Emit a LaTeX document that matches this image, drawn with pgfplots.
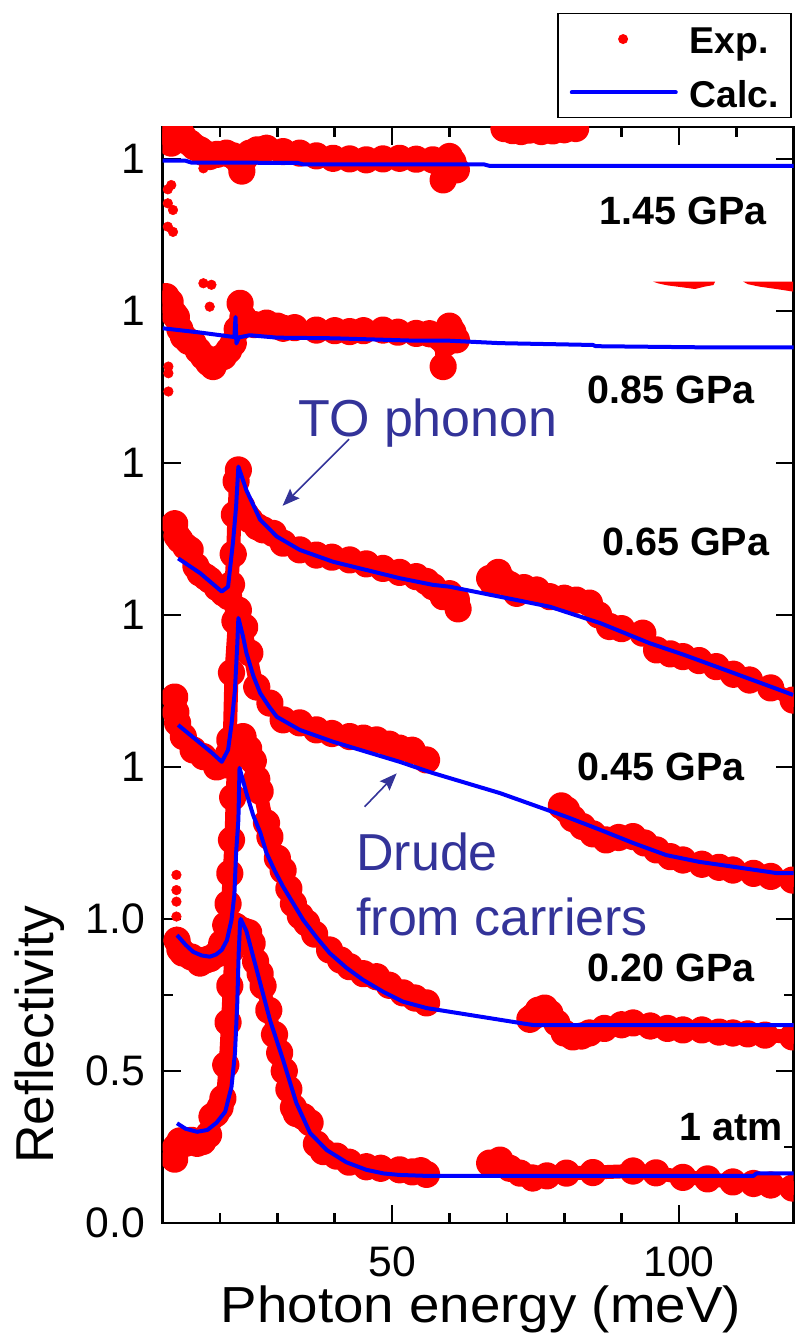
\documentclass[border=0pt]{standalone}
\usepackage{fontspec}
\setmainfont{Liberation Sans}
\newfontfamily\widesans{Liberation Sans}[FakeStretch=1.08]
\usepackage{pgfplots}
\usepackage{pgfplotstable}
\pgfplotsset{compat=1.18}
\usetikzlibrary{arrows.meta}
\definecolor{annot}{RGB}{51,51,153}

% ---------- 1 atm ----------
\pgfplotstableread{
E R
12.5 0.328
14.0 0.310
16.0 0.300
17.8 0.306
19.4 0.330
20.9 0.366
22.0 0.448
22.6 0.558
23.0 0.720
23.25 0.887
23.5 0.990
23.6 1.000
24.6 0.960
26.4 0.832
28.7 0.668
31.0 0.536
33.3 0.395
35.7 0.296
38.6 0.240
42.0 0.200
45.5 0.175
48.5 0.163
51.3 0.158
56.0 0.155
113.0 0.155
113.5 0.163
120.0 0.163
}\calcA
\pgfplotstableread{
E R
12.1 0.210
12.3 0.250
13.0 0.270
14.0 0.262
15.0 0.272
16.0 0.262
17.0 0.268
18.0 0.290
18.6 0.350
19.3 0.360
20.0 0.380
20.5 0.410
21.0 0.520
21.4 0.660
21.7 0.780
22.0 0.900
22.3 0.980
22.8 0.975
23.5 0.965
24.2 0.960
25.0 0.955
25.6 0.920
26.2 0.860
27.0 0.820
27.5 0.780
28.5 0.700
29.5 0.620
30.4 0.560
31.2 0.500
32.0 0.440
32.8 0.380
33.3 0.360
34.5 0.350
35.7 0.330
36.8 0.260
38.0 0.235
40.3 0.220
42.5 0.200
45.5 0.185
48.0 0.180
51.3 0.175
53.5 0.168
55.0 0.172
56.0 0.160
}\expAlow
\pgfplotstableread{
E R
67.0 0.197
68.8 0.207
70.5 0.180
72.3 0.164
74.5 0.148
77.0 0.155
80.4 0.164
85.0 0.166
92.0 0.171
96.0 0.165
100.7 0.150
105.0 0.145
109.4 0.135
113.0 0.130
116.0 0.125
119.8 0.115
}\expAhigh

% ---------- 0.20 GPa ----------
\pgfplotstableread{
E R
12.5 0.447
14.0 0.415
15.3 0.392
16.8 0.380
18.2 0.376
19.3 0.383
20.3 0.398
21.2 0.430
22.0 0.497
22.5 0.580
22.8 0.717
23.2 0.826
23.4 0.997
24.6 0.914
25.8 0.840
27.0 0.785
28.1 0.717
29.5 0.660
31.0 0.606
32.8 0.550
34.5 0.497
36.8 0.440
39.1 0.388
42.0 0.340
44.9 0.300
48.5 0.260
51.9 0.228
56.0 0.207
74.6 0.151
120.0 0.151
}\calcB
\pgfplotstableread{
E R
12.5 0.430
13.0 0.400
13.5 0.388
15.0 0.375
16.5 0.355
17.5 0.365
18.3 0.370
19.5 0.385
20.3 0.420
21.0 0.480
21.4 0.550
21.7 0.650
22.0 0.760
22.2 0.900
22.5 1.050
23.0 1.090
24.0 1.100
25.0 1.060
25.8 1.020
26.4 0.960
27.0 0.920
28.1 0.816
28.7 0.770
30.0 0.700
31.0 0.660
32.0 0.600
32.8 0.550
34.0 0.510
35.1 0.487
36.5 0.450
39.1 0.398
41.0 0.365
42.6 0.343
45.0 0.320
47.3 0.310
49.5 0.282
51.9 0.257
54.0 0.240
56.0 0.224
}\expBlow
\pgfplotstableread{
E R
12.4 0.645
12.4 0.595
12.4 0.557
12.4 0.508
12.4 0.458
}\expBdots
\pgfplotstableread{
E R
74.0 0.170
74.6 0.179
75.5 0.200
76.6 0.207
77.5 0.190
78.7 0.158
80.0 0.125
81.5 0.112
83.0 0.115
84.4 0.125
87.0 0.140
90.0 0.152
92.0 0.158
95.0 0.148
98.0 0.140
100.7 0.135
104.0 0.135
107.0 0.128
109.4 0.125
112.0 0.122
115.0 0.118
119.8 0.112
}\expBhigh

% ---------- 0.45 GPa ----------
\pgfplotstableread{
E R
12.7 0.638
14.5 0.610
16.5 0.579
18.5 0.548
20.3 0.517
21.4 0.556
22.0 0.640
22.6 0.753
23.0 0.900
23.2 0.990
24.0 0.930
24.6 0.875
25.8 0.800
27.0 0.743
28.5 0.700
29.9 0.665
33.9 0.622
39.7 0.583
45.5 0.550
51.3 0.517
57.1 0.480
68.8 0.414
80.4 0.336
86.3 0.293
92.0 0.250
97.8 0.210
103.5 0.188
109.4 0.172
117.0 0.151
120.0 0.151
}\calcC
\pgfplotstableread{
E R
12.1 0.730
12.3 0.680
12.6 0.645
13.6 0.600
15.3 0.556
17.1 0.534
19.4 0.500
20.9 0.507
21.4 0.540
21.7 0.589
22.0 0.810
22.6 0.980
23.2 1.016
24.3 0.960
25.2 0.875
26.4 0.763
28.7 0.710
31.0 0.655
33.9 0.645
36.8 0.622
39.5 0.610
42.6 0.600
45.0 0.595
47.3 0.589
49.5 0.575
51.3 0.562
53.5 0.555
56.0 0.523
}\expClow
\pgfplotstableread{
E R
79.5 0.372
80.4 0.359
81.5 0.330
83.2 0.304
85.0 0.280
87.3 0.260
89.5 0.268
92.0 0.271
94.0 0.250
96.1 0.227
98.5 0.205
100.7 0.194
104.0 0.180
107.0 0.170
109.4 0.161
113.0 0.150
116.0 0.140
119.8 0.128
}\expChigh

% ---------- 0.65 GPa ----------
\pgfplotstableread{
E R
12.7 0.686
16.5 0.638
20.3 0.577
21.4 0.593
22.3 0.747
22.8 0.856
23.2 0.988
24.6 0.910
27.0 0.813
29.9 0.758
33.9 0.714
39.7 0.675
45.5 0.648
51.3 0.621
57.1 0.599
60.0 0.593
68.8 0.560
77.5 0.527
86.3 0.473
94.9 0.407
100.7 0.370
106.5 0.330
113.0 0.285
119.9 0.237
}\calcD
\pgfplotstableread{
E R
12.1 0.800
12.5 0.760
13.0 0.747
14.0 0.725
14.8 0.714
15.8 0.660
16.5 0.638
17.5 0.625
18.2 0.615
19.5 0.590
20.6 0.572
21.5 0.560
22.0 0.600
22.3 0.700
22.5 0.830
22.8 0.940
23.2 0.977
23.8 0.856
24.5 0.830
25.2 0.813
26.5 0.790
27.5 0.780
29.3 0.768
31.0 0.736
33.9 0.714
36.8 0.697
39.5 0.690
42.6 0.681
45.5 0.668
48.4 0.653
51.3 0.640
54.2 0.626
56.0 0.610
57.1 0.593
58.9 0.560
60.0 0.570
61.2 0.550
61.5 0.520
}\expDlow
\pgfplotstableread{
E R
67.0 0.620
67.6 0.604
68.5 0.640
69.3 0.615
70.5 0.600
71.7 0.571
73.0 0.590
75.2 0.582
77.5 0.560
80.0 0.555
82.1 0.549
84.4 0.539
86.0 0.500
87.9 0.462
90.0 0.455
93.7 0.440
96.1 0.385
98.5 0.372
100.7 0.363
103.5 0.350
106.5 0.330
109.5 0.305
112.3 0.286
116.0 0.260
119.9 0.220
}\expDhigh

% ---------- 0.85 GPa ----------
\pgfplotstableread{
E R
10.0 0.943
16.5 0.929
21.7 0.916
22.5 0.914
22.7 0.980
22.85 0.893
23.3 0.913
25.2 0.920
30.0 0.912
39.7 0.910
54.2 0.902
60.0 0.902
68.8 0.894
85.0 0.888
85.5 0.884
105.3 0.880
120.0 0.880
}\calcE
\pgfplotstableread{
E R
10.6 1.047
11.3 1.030
12.0 0.990
12.4 0.980
13.0 0.940
13.6 0.916
14.5 0.900
15.3 0.894
16.2 0.870
17.1 0.850
18.0 0.830
18.8 0.817
19.5 0.840
20.6 0.850
21.5 0.870
22.3 0.894
23.0 0.940
23.5 1.025
24.0 0.980
24.6 0.960
26.0 0.955
28.1 0.960
30.0 0.950
31.0 0.943
33.0 0.945
36.8 0.937
40.0 0.935
42.6 0.932
45.0 0.935
48.4 0.937
51.0 0.930
54.2 0.926
56.5 0.925
58.5 0.910
58.9 0.817
59.3 0.894
60.0 0.950
60.6 0.930
61.2 0.905
}\expEband
\pgfplotstableread{
E R
11.0 0.817
11.0 0.795
11.0 0.735
17.1 1.091
18.5 1.086
18.2 1.014
15.0 0.870
16.0 0.840
17.0 0.820
18.0 0.800
19.0 0.810
20.0 0.830
21.0 0.850
22.0 0.870
}\expEdots
\pgfplotstableread{
E R
95.5 1.0964
106.3 1.0964
106.0 1.085
104.5 1.080
102.8 1.072
100.5 1.078
98.0 1.084
96.5 1.090
}\expEtopA
\pgfplotstableread{
E R
111.2 1.0964
119.9 1.0964
119.9 1.0635
117.0 1.072
114.0 1.080
112.0 1.088
}\expEtopB

% ---------- 1.45 GPa ----------
\pgfplotstableread{
E R
10.0 0.994
14.0 0.994
15.0 0.988
33.5 0.987
34.5 0.982
66.0 0.982
67.0 0.977
120.0 0.977
}\calcF
\pgfplotstableread{
E R
10.4 1.090
11.0 1.060
11.5 1.052
12.2 1.080
13.0 1.095
13.6 1.073
14.8 1.052
15.5 1.040
16.5 1.030
17.2 1.020
18.2 1.008
19.5 1.015
21.1 1.019
22.3 1.010
23.0 1.000
23.5 0.986
23.8 0.960
24.2 1.000
25.2 1.019
26.5 1.030
28.1 1.035
31.0 1.024
33.9 1.019
36.8 1.010
39.7 1.002
42.6 1.000
45.5 0.997
48.4 1.000
51.3 1.002
54.2 0.999
57.1 0.997
58.0 0.990
58.9 0.931
59.3 0.990
60.0 1.008
60.6 0.990
61.2 0.964
}\expFband
\pgfplotstableread{
E R
11.5 0.914
10.9 0.900
10.9 0.854
11.8 0.832
10.9 0.777
11.8 0.760
17.1 0.969
23.5 0.953
}\expFdots
\pgfplotstableread{
E R
69.5 1.100
71.0 1.093
72.5 1.090
74.0 1.095
76.0 1.090
78.0 1.092
80.0 1.096
82.0 1.100
}\expFtop

\pgfplotsset{
  expline/.style={draw=red, line width=10.5pt, line join=round, line cap=round,
    mark=*, mark size=5pt, mark options={draw=none, fill=red}, forget plot},
  expdots/.style={red, only marks, mark=*, mark size=3.6pt,
    mark options={draw=none, fill=red}, forget plot},
  calcline/.style={blue, line width=3pt, line join=round, mark=none, forget plot},
}

\begin{document}
\begin{tikzpicture}
\begin{axis}[
  scale only axis,
  width=473.25pt, height=822pt,
  xmin=10, xmax=120, ymin=0, ymax=3.605,
  clip marker paths=true,
  axis line style={line width=2.2pt},
  tick style={line width=2pt, black},
  major tick length=13.5pt, minor tick length=7.5pt,
  xtick={50,100}, xticklabels={50,100},
  minor xtick={20,30,40,60,70,80,90,110},
  ytick={0,0.5,1,1.5,2,2.5,3,3.5},
  yticklabels={0.0,0.5,1.0,1,1,1,1,1},
  minor ytick={0.25,0.75},
  /pgf/number format/assume math mode=true,
  tick label style={font=\fontsize{32}{36}\selectfont, inner sep=0pt},
  xticklabel style={anchor=base, yshift=-40pt},
  yticklabel style={anchor=east, xshift=-13pt},
  xlabel={Photon energy (meV)},
  ylabel={Reflectivity},
  xlabel style={at={(axis description cs:0.5044,-0.0912)}, anchor=base,
    font=\widesans\fontsize{38}{42}\selectfont, inner sep=0pt},
  ylabel style={at={(axis description cs:-0.1727,0.1715)}, anchor=base,
    font=\fontsize{40}{44}\selectfont, inner sep=0pt},
  legend style={at={(axis description cs:0.625,1.104)}, anchor=north west,
    draw=black, line width=1.1pt, fill=white,
    inner xsep=9pt, inner ysep=8pt, row sep=18pt, column sep=9pt,
    font=\bfseries\fontsize{28}{30}\selectfont,
    nodes={inner sep=0pt, text height=22pt, text depth=0pt}},
  legend cell align=left,
]
\addlegendimage{legend image code/.code={
  \path[draw=none] (0pt,0pt) -- (81pt,0pt);
  \fill[red, draw=none] (40pt,0pt) circle (3.75pt);}}
\addlegendentry{Exp.}
\addlegendimage{legend image code/.code={
  \draw[blue, line width=3pt, line cap=round] (1.5pt,0pt) -- (79.5pt,0pt);}}
\addlegendentry{Calc.}

% measured reflectivity, each pressure shifted by 0.5
\addplot[expline] table[x=E, y expr=\thisrow{R}] {\expAlow};
\addplot[expline] table[x=E, y expr=\thisrow{R}] {\expAhigh};
\addplot[expline] table[x=E, y expr=\thisrow{R}+0.5] {\expBlow};
\addplot[expdots] table[x=E, y expr=\thisrow{R}+0.5] {\expBdots};
\addplot[expline] table[x=E, y expr=\thisrow{R}+0.5] {\expBhigh};
\addplot[expline] table[x=E, y expr=\thisrow{R}+1.0] {\expClow};
\addplot[expline] table[x=E, y expr=\thisrow{R}+1.0] {\expChigh};
\addplot[expline] table[x=E, y expr=\thisrow{R}+1.5] {\expDlow};
\addplot[expline] table[x=E, y expr=\thisrow{R}+1.5] {\expDhigh};
\addplot[expline] table[x=E, y expr=\thisrow{R}+2.0] {\expEband};
\addplot[expdots] table[x=E, y expr=\thisrow{R}+2.0] {\expEdots};
\addplot[red, fill=red, draw=none, forget plot] table[x=E, y expr=\thisrow{R}+2.0] {\expEtopA};
\addplot[red, fill=red, draw=none, forget plot] table[x=E, y expr=\thisrow{R}+2.0] {\expEtopB};
\addplot[expline] table[x=E, y expr=\thisrow{R}+2.5] {\expFband};
\addplot[expdots] table[x=E, y expr=\thisrow{R}+2.5] {\expFdots};
\addplot[expline] table[x=E, y expr=\thisrow{R}+2.5] {\expFtop};

% calculated reflectivity
\addplot[calcline] table[x=E, y expr=\thisrow{R}] {\calcA};
\addplot[calcline] table[x=E, y expr=\thisrow{R}+0.5] {\calcB};
\addplot[calcline] table[x=E, y expr=\thisrow{R}+1.0] {\calcC};
\addplot[calcline] table[x=E, y expr=\thisrow{R}+1.5] {\calcD};
\addplot[calcline] table[x=E, y expr=\thisrow{R}+2.0] {\calcE};
\addplot[calcline] table[x=E, y expr=\thisrow{R}+2.5] {\calcF};

% pressure labels
\begin{scope}[every node/.style={font=\bfseries\fontsize{29.6}{32}\selectfont, inner sep=0pt, anchor=base east}]
\node at (axis cs:115.3,3.283) {1.45 GPa};
\node at (axis cs:113.2,2.697) {0.85 GPa};
\node at (axis cs:115.8,2.197) {0.65 GPa};
\node at (axis cs:111.5,1.457) {0.45 GPa};
\node at (axis cs:113.2,0.793) {0.20 GPa};
\node at (axis cs:118.1,0.273) {1 atm};
\end{scope}

% annotations
\node[annot, font=\fontsize{39}{42}\selectfont, inner sep=0pt, anchor=base west]
  at (axis cs:33.6,2.586) {TO phonon};
\node[annot, font=\fontsize{39}{42}\selectfont, inner sep=0pt, anchor=base west]
  at (axis cs:43.7,1.161) {Drude};
\node[annot, font=\fontsize{39}{42}\selectfont, inner sep=0pt, anchor=base west]
  at (axis cs:43.7,0.947) {from carriers};
\draw[annot, line width=1.2pt, -{Stealth[length=13pt, width=10pt, inset=2pt]}]
  (axis cs:42.5,2.578) -- (axis cs:30.9,2.359);
\draw[annot, line width=1.2pt, -{Stealth[length=13pt, width=10pt, inset=2pt]}]
  (axis cs:45.2,1.369) -- (axis cs:50.8,1.479);

\coordinate (SW) at (rel axis cs:0,0);
\coordinate (NE) at (rel axis cs:1,1);
\end{axis}
\pgfresetboundingbox
\path ([shift={(-122pt,-84pt)}]SW) rectangle ([shift={(1.5pt,95.25pt)}]NE);
\end{tikzpicture}
\end{document}
